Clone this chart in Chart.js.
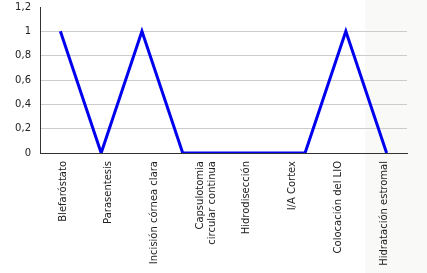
<!DOCTYPE html>
<html>
<head>
<meta charset="utf-8">
<script src="https://cdn.jsdelivr.net/npm/chart.js@4"></script>
<style>
    html, body { margin: 0; padding: 0; }
    body { width: 427px; height: 273px; background: linear-gradient(to right, #ffffff 365px, #f9f9f7 365px); }
    #wrap { width: 427px; height: 273px; }
</style>
</head>
<body>
<div id="wrap"><canvas id="stepChart" width="427" height="273"></canvas></div>
<script>
        // Data
        const tickLabels = [
            'Blefaróstato',
            'Parasentesis',
            'Incisión córnea clara',
            ['Capsulotomia', 'circular continua'],
            'Hidrodisección',
            'I/A Cortex',
            'Colocación del LIO',
            'Hidratación estromal'
        ];
        const stepValues = [1, 0, 1, 0, 0, 0, 0, 1, 0];
        const yTicks = [0, 0.2, 0.4, 0.6, 0.8, 1, 1.2];

        const textColor = '#222';
        const gridColor = '#cccccc';
        const fontFamily = '"DejaVu Sans", Verdana, sans-serif';

        const points = stepValues.map((v, i) => ({ x: i, y: v }));

        const ctx = document.getElementById('stepChart').getContext('2d');
        new Chart(ctx, {
            type: 'line',
            data: {
                datasets: [{
                    data: points,
                    borderColor: '#0000ee',
                    borderWidth: 3,
                    pointRadius: 0,
                    tension: 0,
                    fill: false,
                    xAxisID: 'x',
                    yAxisID: 'y'
                }]
            },
            options: {
                responsive: false,
                animation: false,
                layout: { padding: { top: 0, right: 20, left: 0, bottom: 0 } },
                plugins: {
                    legend: { display: false },
                    tooltip: { enabled: false }
                },
                scales: {
                    x: {
                        type: 'linear',
                        position: 'bottom',
                        min: -0.5,
                        max: stepValues.length - 0.5,
                        grid: { display: false },
                        border: { display: true, color: '#333', width: 1 },
                        ticks: { display: false },
                        afterFit: (scale) => { scale.height = 0; }
                    },
                    x2: {
                        type: 'category',
                        position: 'bottom',
                        labels: tickLabels,
                        offset: true,
                        grid: { display: false, drawTicks: false },
                        border: { display: false },
                        ticks: {
                            color: textColor,
                            font: { family: fontFamily, size: 10 },
                            minRotation: 90,
                            maxRotation: 90,
                            autoSkip: false,
                            padding: 8
                        },
                        afterFit: (scale) => { scale.height = 120; }
                    },
                    y: {
                        min: 0,
                        max: 1.2,
                        afterBuildTicks: (scale) => {
                            scale.ticks = yTicks.map(v => ({ value: v }));
                        },
                        grid: {
                            drawTicks: false,
                            color: (c) => (c.tick && c.tick.value >= 1.2) ? 'rgba(0,0,0,0)' : gridColor,
                            lineWidth: 1
                        },
                        border: { display: true, color: '#333', width: 1 },
                        ticks: {
                            color: textColor,
                            font: { family: fontFamily, size: 10 },
                            padding: 9,
                            callback: (v) => String(Math.round(v * 10) / 10).replace('.', ',')
                        },
                        afterFit: (scale) => {
                            scale.width = 40;
                            scale.paddingTop = 7;
                            scale.paddingBottom = 0;
                        }
                    }
                }
            }
        });
</script>
</body>
</html>
